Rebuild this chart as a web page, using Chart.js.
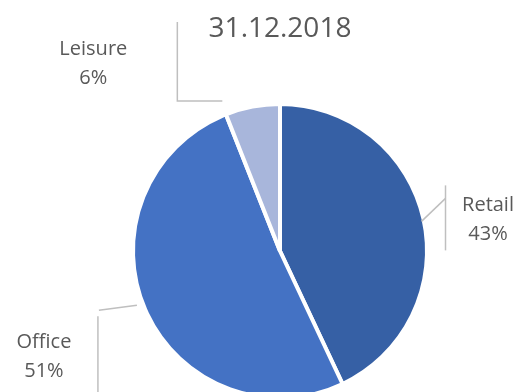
<!DOCTYPE html>
<html>
<head>
<meta charset="utf-8">
<script src="https://cdn.jsdelivr.net/npm/chart.js@4"></script>
<style>
html, body { margin: 0; padding: 0; background: #fff; overflow: hidden; }
#marco { width: 520px; height: 392px; overflow: hidden; position: relative; }
</style>
</head>
<body>
<div id="marco"><canvas id="grafico" width="520" height="410"></canvas></div>
<script>
var titulo = '31.12.2018'
var categorias = ['Retail', 'Office', 'Leisure']
var valores = [43, 51, 6]
var colores = ['#3660A5', '#4472C4', '#A8B6DB']

// leader lines and label spots, relative to the slice edge at its mid angle
var guias = [
    { lineas: [[[0, 2], [24, -21]], [[24, -34], [24, 31]]], texto: [66.5, -14] },
    { lineas: [[[-10, -3.4], [-48, 1.6]], [[-49, 7.6], [-49, 95]]], texto: [-103, 33.6] },
    { lineas: [[[-30.5, -7.6], [-75.5, -7.6], [-75.5, -86.6]]], texto: [-159.5, -59.6] }
]

var etiquetasPlugin = {
    id: 'etiquetas',
    afterDraw: function (chart) {
        var ctx = chart.ctx
        var meta = chart.getDatasetMeta(0)
        var total = valores.reduce(function (a, b) { return a + b }, 0)
        ctx.save()
        meta.data.forEach(function (arco, i) {
            var p = arco.getProps(['x', 'y', 'startAngle', 'endAngle', 'outerRadius'], true)
            var medio = (p.startAngle + p.endAngle) / 2
            var r = p.outerRadius - 2
            var ex = p.x + Math.cos(medio) * r
            var ey = p.y + Math.sin(medio) * r
            var g = guias[i]
            ctx.strokeStyle = '#BFBFBF'
            ctx.lineWidth = 1.5
            g.lineas.forEach(function (linea) {
                ctx.beginPath()
                linea.forEach(function (pt, k) {
                    if (k === 0) ctx.moveTo(ex + pt[0], ey + pt[1])
                    else ctx.lineTo(ex + pt[0], ey + pt[1])
                })
                ctx.stroke()
            })
            ctx.fillStyle = '#595959'
            ctx.font = '20px "Open Sans"'
            ctx.textAlign = 'center'
            ctx.textBaseline = 'middle'
            var tx = ex + g.texto[0]
            var ty = ey + g.texto[1]
            ctx.fillText(categorias[i], tx, ty)
            ctx.fillText(Math.round(valores[i] / total * 100) + '%', tx, ty + 29)
        })
        ctx.restore()
    }
}

var grafico = new Chart(document.getElementById('grafico'),
    {
        type: 'pie',
        data:
            {
                labels: categorias,
                datasets:
                    [{
                        data: valores,
                        backgroundColor: colores,
                        borderColor: '#FFFFFF',
                        borderWidth: 4,
                        hoverOffset: 0,
                        offset: 0
                    }]
            },
        options:
            {
                responsive: false,
                animation: false,
                layout: { padding: { top: 0, left: 131, right: 91, bottom: 10 } },
                plugins:
                    {
                        legend: { display: false },
                        tooltip: { enabled: false },
                        title:
                            {
                                display: true,
                                text: titulo,
                                color: '#595959',
                                font: { family: 'Open Sans', size: 28, weight: 'normal' },
                                padding: { top: 12, bottom: 56.4 }
                            }
                    }
            },
        plugins: [etiquetasPlugin]
    })
</script>
</body>
</html>
